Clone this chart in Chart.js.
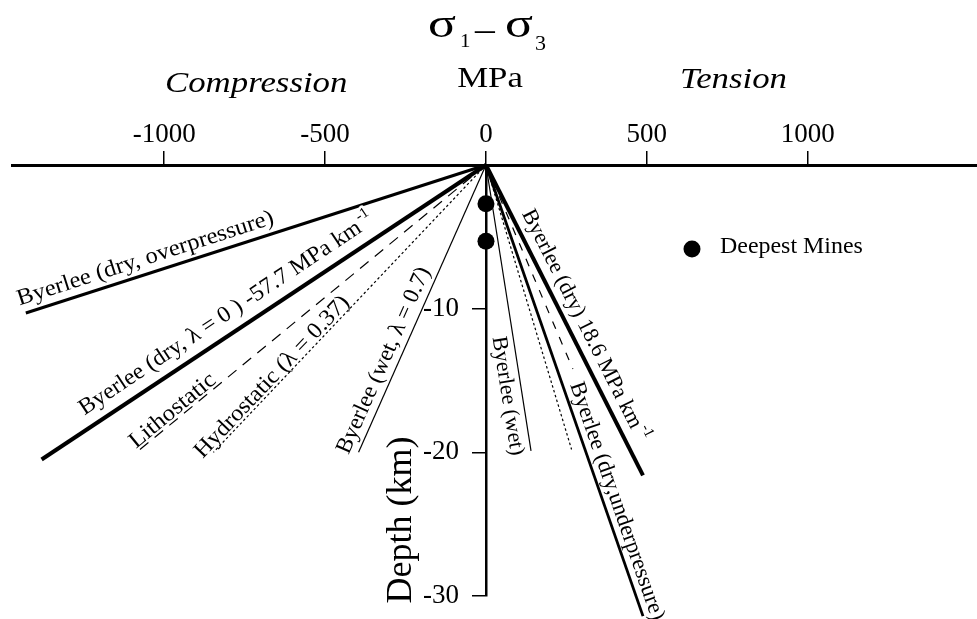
<!DOCTYPE html>
<html>
<head>
<meta charset="utf-8">
<script src="https://cdn.jsdelivr.net/npm/chart.js@4.4.1/dist/chart.umd.min.js"></script>
<style>
  html, body { margin: 0; padding: 0; background: #fff; }
  canvas { display: block; }
</style>
</head>
<body>
<canvas id="c" width="977" height="619"></canvas>
<script>
// Stress-difference profiles (σ1 − σ3). Every profile starts at the surface
// (0 MPa, 0 km) and runs straight to the end point listed below.
const profileNames = [
  'Byerlee (dry, overpressure)',
  'Byerlee (dry, λ = 0)',
  'Lithostatic',
  'Hydrostatic (λ = 0.37)',
  'Byerlee (wet, λ = 0.7)',
  'Byerlee (wet)',
  'Hydrostatic, tension',
  'Lithostatic, tension',
  'Byerlee (dry, underpressure)',
  'Byerlee (dry)'
];
const profileEndStress = [-1430, -1381, -1086, -847, -396, 140, 266, 270, 488, 488]; // MPa
const profileEndDepth  = [-10.3, -20.5, -20.0, -20.0, -20.0, -19.9, -19.8, -14.2, -31.4, -21.6]; // km

// Deepest mines, plotted on the zero-stress axis
const mineStress = [0, 0];
const mineDepths = [-2.7, -5.3];

// Axis ticks
const stressTicks = [-1000, -500, 0, 500, 1000];
const depthTicks = [-10, -20, -30];

const SERIF = "'Liberation Serif', 'Times New Roman', serif";
const INK = '#000';

// Stroke style of each profile line
const profileStyles = [
  { width: 3,   dash: [] },
  { width: 4,   dash: [] },
  { width: 1.2, dash: [11, 8] },
  { width: 1.2, dash: [2.5, 2.5] },
  { width: 1.2, dash: [] },
  { width: 1.2, dash: [] },
  { width: 1.2, dash: [2.5, 2.5] },
  { width: 1.2, dash: [8, 9] },
  { width: 2.8, dash: [] },
  { width: 4,   dash: [] }
];

// Text written along the profiles: f = position along the line (0 = surface, 1 = end),
// gap = distance from the line, below = text on the lower side of its reading direction.
const lineLabels = [
  { i: 0, text: 'Byerlee (dry, overpressure)', f: 0.73, gap: 9, size: 23, sx: 1.07 },
  { i: 1, text: 'Byerlee (dry, λ = 0 ) -57.7 MPa km', sup: '-1', f: 0.56, gap: 13, size: 23, sx: 1.03, halo: true },
  { i: 2, text: 'Lithostatic', f: 0.88, gap: 3, size: 23, sx: 1.07 },
  { i: 3, text: 'Hydrostatic (λ = 0.37)', f: 0.76, gap: 3, size: 23, sx: 1.05 },
  { i: 4, text: 'Byerlee (wet, λ = 0.7)', f: 0.70, gap: 8, size: 23, sx: 1.0 },
  { i: 5, text: 'Byerlee (wet)', f: 0.80, gap: 6, size: 22, sx: 1.0, below: true },
  { i: 9, text: 'Byerlee (dry) 18.6 MPa km', sup: '-1', f: 0.54, gap: 10, size: 22, sx: 1.0 },
  { i: 8, text: 'Byerlee (dry,underpressure)', f: 0.755, gap: 7, size: 22.5, sx: 1.0 }
];

function stretchedText(ctx, str, x, y, font, sx, align) {
  ctx.save();
  ctx.font = font;
  const w = ctx.measureText(str).width * sx;
  let left = x;
  if (align === 'center') left = x - w / 2;
  else if (align === 'right') left = x - w;
  ctx.translate(left, y);
  ctx.scale(sx, 1);
  ctx.textAlign = 'left';
  ctx.textBaseline = 'alphabetic';
  ctx.fillStyle = INK;
  ctx.fillText(str, 0, 0);
  ctx.restore();
  return w;
}

// Depth labels sit to the left of their tick marks on the mid-plot axis
const depthLabelShift = {
  id: 'depthLabelShift',
  beforeDraw(chart) {
    const ys = chart.scales.y;
    if (!ys.getLabelItems) return;
    const items = ys.getLabelItems(chart.chartArea);
    const shift = ys.options.grid.tickLength + ys.options.ticks.padding;
    items.forEach(it => {
      if (!it._shifted) { it.options.translation[0] -= shift; it._shifted = true; }
    });
  }
};

const annotations = {
  id: 'annotations',
  afterDatasetsDraw(chart) {
    const ctx = chart.ctx;
    const xs = chart.scales.x, ys = chart.scales.y;
    ctx.save();
    ctx.fillStyle = INK;

    // σ1 – σ3 heading
    stretchedText(ctx, 'σ', 428, 37, `40px ${SERIF}`, 1.3, 'left');
    stretchedText(ctx, '1', 460, 47, `19px ${SERIF}`, 1.1, 'left');
    stretchedText(ctx, '–', 485, 41, `36px ${SERIF}`, 1.1, 'center');
    stretchedText(ctx, 'σ', 505, 37, `40px ${SERIF}`, 1.3, 'left');
    stretchedText(ctx, '3', 535, 50, `20px ${SERIF}`, 1.1, 'left');

    // unit and regime words above the stress axis
    stretchedText(ctx, 'MPa', 490, 87, `29px ${SERIF}`, 1.2, 'center');
    stretchedText(ctx, 'Compression', 165, 92, `italic 30px ${SERIF}`, 1.16, 'left');
    stretchedText(ctx, 'Tension', 680, 88, `italic 30px ${SERIF}`, 1.16, 'left');

    // depth axis title
    ctx.save();
    ctx.translate(411, 520);
    ctx.rotate(-Math.PI / 2);
    ctx.font = `36px ${SERIF}`;
    ctx.textAlign = 'center';
    ctx.textBaseline = 'alphabetic';
    ctx.fillText('Depth (km)', 0, 0);
    ctx.restore();

    // legend
    ctx.beginPath();
    ctx.arc(692, 249, 8.5, 0, Math.PI * 2);
    ctx.fill();
    stretchedText(ctx, 'Deepest Mines', 720, 253, `23px ${SERIF}`, 1.04, 'left');

    // labels running along the profiles
    const x0 = xs.getPixelForValue(0), y0 = ys.getPixelForValue(0);
    lineLabels.forEach(lb => {
      const x1 = xs.getPixelForValue(profileEndStress[lb.i]);
      const y1 = ys.getPixelForValue(profileEndDepth[lb.i]);
      const ang = x1 < x0 ? Math.atan2(y0 - y1, x0 - x1) : Math.atan2(y1 - y0, x1 - x0);
      const px = x0 + (x1 - x0) * lb.f, py = y0 + (y1 - y0) * lb.f;
      ctx.save();
      ctx.translate(px, py);
      ctx.rotate(ang);
      ctx.scale(lb.sx, 1);
      ctx.textBaseline = 'alphabetic';
      ctx.textAlign = 'left';
      const mainFont = `${lb.size}px ${SERIF}`;
      const supFont = `15px ${SERIF}`;
      ctx.font = mainFont;
      const mainW = ctx.measureText(lb.text).width;
      let supW = 0;
      if (lb.sup) { ctx.font = supFont; supW = ctx.measureText(lb.sup).width + 2; }
      const total = mainW + supW;
      const base = lb.below ? lb.gap + lb.size * 0.66 : -lb.gap;
      ctx.font = mainFont;
      ctx.strokeStyle = '#fff';
      ctx.lineWidth = 5;
      ctx.lineJoin = 'round';
      if (lb.halo) ctx.strokeText(lb.text, -total / 2, base);
      ctx.fillText(lb.text, -total / 2, base);
      if (lb.sup) {
        ctx.font = supFont;
        if (lb.halo) ctx.strokeText(lb.sup, -total / 2 + mainW + 2, base - 10);
        ctx.fillText(lb.sup, -total / 2 + mainW + 2, base - 10);
      }
      ctx.restore();
    });
    ctx.restore();
  }
};

const datasets = profileNames.map((name, i) => ({
  label: name,
  data: [{ x: 0, y: 0 }, { x: profileEndStress[i], y: profileEndDepth[i] }],
  showLine: true,
  borderColor: INK,
  borderWidth: profileStyles[i].width,
  borderDash: profileStyles[i].dash,
  pointRadius: 0,
  clip: false
}));
datasets.push({
  label: 'Deepest Mines',
  data: mineStress.map((x, k) => ({ x, y: mineDepths[k] })),
  showLine: false,
  pointRadius: 8.5,
  pointBackgroundColor: INK,
  pointBorderWidth: 0,
  clip: false
});

new Chart(document.getElementById('c'), {
  type: 'scatter',
  data: { datasets },
  plugins: [depthLabelShift, annotations],
  options: {
    responsive: false,
    animation: false,
    devicePixelRatio: 1,
    layout: { autoPadding: false, padding: { left: 12, right: 0, top: 0, bottom: 23 } },
    plugins: { legend: { display: false }, tooltip: { enabled: false } },
    scales: {
      x: {
        type: 'linear',
        position: 'top',
        min: -1473,
        max: 1526,
        afterBuildTicks: s => { s.ticks = stressTicks.map(v => ({ value: v })); },
        afterFit: s => { s.height = 165; s.paddingLeft = 0; s.paddingRight = 0; },
        grid: { drawOnChartArea: false, drawTicks: true, tickLength: 14, color: INK, lineWidth: 1.5 },
        border: { display: true, color: INK, width: 3 },
        ticks: {
          color: INK,
          padding: 3,
          autoSkip: false,
          maxRotation: 0,
          font: { family: SERIF, size: 27, lineHeight: 1 },
          callback: v => String(v)
        }
      },
      y: {
        type: 'linear',
        position: { x: 0 },
        min: -30,
        max: 0,
        afterBuildTicks: s => { s.ticks = depthTicks.map(v => ({ value: v })); },
        afterFit: s => { s.paddingTop = 0; s.paddingBottom = 0; },
        grid: { drawOnChartArea: false, drawTicks: true, tickLength: 13, color: INK, lineWidth: 1.5 },
        border: { display: true, color: INK, width: 2.5 },
        ticks: {
          color: INK,
          padding: 14,
          autoSkip: false,
          font: { family: SERIF, size: 27, lineHeight: 1 },
          callback: v => String(v)
        }
      }
    }
  }
});
</script>
</body>
</html>
